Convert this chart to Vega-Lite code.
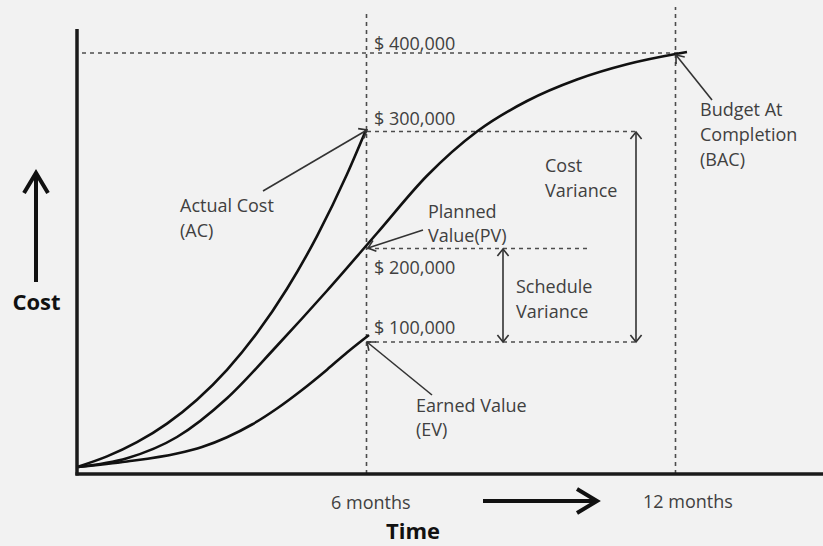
{
  "$schema": "https://vega.github.io/schema/vega-lite/v6.json",
  "width": 746,
  "height": 445,
  "autosize": {"type": "none"},
  "padding": {"left": 77, "top": 29, "right": 0, "bottom": 72},
  "background": "#f2f2f2",
  "view": {"stroke": null},
  "config": {"axis": {"disable": true}},
  "datasets": {
    "curves": [
      {"series": "Actual Cost", "t": 1, "c": 7.3},
      {"series": "Actual Cost", "t": 30, "c": 17.6},
      {"series": "Actual Cost", "t": 60, "c": 31.8},
      {"series": "Actual Cost", "t": 90, "c": 50.4},
      {"series": "Actual Cost", "t": 120, "c": 74.3},
      {"series": "Actual Cost", "t": 150, "c": 104.2},
      {"series": "Actual Cost", "t": 180, "c": 140.9},
      {"series": "Actual Cost", "t": 210, "c": 185.2},
      {"series": "Actual Cost", "t": 240, "c": 237.9},
      {"series": "Actual Cost", "t": 270, "c": 299.7},
      {"series": "Actual Cost", "t": 289, "c": 344},
      {"series": "Planned Value", "t": 1, "c": 7},
      {"series": "Planned Value", "t": 50, "c": 15.75},
      {"series": "Planned Value", "t": 100, "c": 37},
      {"series": "Planned Value", "t": 150, "c": 75.75},
      {"series": "Planned Value", "t": 200, "c": 128.25},
      {"series": "Planned Value", "t": 250, "c": 183.25},
      {"series": "Planned Value", "t": 300, "c": 240.75},
      {"series": "Planned Value", "t": 350, "c": 298.25},
      {"series": "Planned Value", "t": 400, "c": 342.5},
      {"series": "Planned Value", "t": 450, "c": 373},
      {"series": "Planned Value", "t": 500, "c": 394.5},
      {"series": "Planned Value", "t": 550, "c": 409.75},
      {"series": "Planned Value", "t": 600, "c": 420.25},
      {"series": "Planned Value", "t": 610, "c": 422},
      {"series": "Earned Value", "t": 1, "c": 7},
      {"series": "Earned Value", "t": 50, "c": 12.5},
      {"series": "Earned Value", "t": 100, "c": 20.5},
      {"series": "Earned Value", "t": 125, "c": 27},
      {"series": "Earned Value", "t": 150, "c": 36.8},
      {"series": "Earned Value", "t": 175, "c": 49.5},
      {"series": "Earned Value", "t": 200, "c": 65.5},
      {"series": "Earned Value", "t": 225, "c": 84},
      {"series": "Earned Value", "t": 250, "c": 104.3},
      {"series": "Earned Value", "t": 270, "c": 121.5},
      {"series": "Earned Value", "t": 292, "c": 139}
    ],
    "segments": [
      {"kind": "axis", "x": 0, "y": -1.5, "x2": 0, "y2": 445},
      {"kind": "axis", "x": -1.5, "y": 0, "x2": 746, "y2": 0},
      {"kind": "big", "x": -41, "y": 192, "x2": -41, "y2": 300},
      {"kind": "big", "x": 406, "y": -27, "x2": 519, "y2": -27},
      {"kind": "guide", "x": 289.5, "y": 0, "x2": 289.5, "y2": 461},
      {"kind": "guide", "x": 598.5, "y": 0, "x2": 598.5, "y2": 467},
      {"kind": "guide", "x": 5, "y": 421, "x2": 605, "y2": 421},
      {"kind": "guide", "x": 290, "y": 342.5, "x2": 559, "y2": 342.5},
      {"kind": "guide", "x": 290, "y": 225.5, "x2": 513, "y2": 225.5},
      {"kind": "guide", "x": 290, "y": 132, "x2": 559, "y2": 132},
      {"kind": "pointer", "x": 186, "y": 283, "x2": 290, "y2": 344},
      {"kind": "pointer", "x": 346, "y": 244, "x2": 291, "y2": 226},
      {"kind": "pointer", "x": 635, "y": 374, "x2": 599, "y2": 419},
      {"kind": "pointer", "x": 355, "y": 79, "x2": 290, "y2": 132},
      {"kind": "pointer", "x": 559, "y": 132, "x2": 559, "y2": 342},
      {"kind": "pointer", "x": 426, "y": 132, "x2": 426, "y2": 225}
    ],
    "heads": [
      {"kind": "small", "x": 290, "y": 344, "angle": 60},
      {"kind": "small", "x": 291, "y": 226, "angle": 252},
      {"kind": "small", "x": 599, "y": 419, "angle": 321},
      {"kind": "small", "x": 290, "y": 132, "angle": 309},
      {"kind": "small", "x": 559, "y": 342, "angle": 0},
      {"kind": "small", "x": 559, "y": 132, "angle": 180},
      {"kind": "small", "x": 426, "y": 225, "angle": 0},
      {"kind": "small", "x": 426, "y": 132, "angle": 180},
      {"kind": "big", "x": -41, "y": 301, "angle": 0},
      {"kind": "big", "x": 520, "y": -27, "angle": 90}
    ],
    "labels": [
      {"role": "note", "x": 297, "y": 424, "text": "$ 400,000"},
      {"role": "note", "x": 297, "y": 349, "text": "$ 300,000"},
      {"role": "note", "x": 297, "y": 200, "text": "$ 200,000"},
      {"role": "note", "x": 297, "y": 140, "text": "$ 100,000"},
      {"role": "note", "x": 103, "y": 262, "text": "Actual Cost"},
      {"role": "note", "x": 103, "y": 237, "text": "(AC)"},
      {"role": "note", "x": 351, "y": 256, "text": "Planned"},
      {"role": "note", "x": 351, "y": 232, "text": "Value(PV)"},
      {"role": "note", "x": 468, "y": 302, "text": "Cost"},
      {"role": "note", "x": 468, "y": 277, "text": "Variance"},
      {"role": "note", "x": 623, "y": 358, "text": "Budget At"},
      {"role": "note", "x": 623, "y": 333, "text": "Completion"},
      {"role": "note", "x": 623, "y": 308, "text": "(BAC)"},
      {"role": "note", "x": 439, "y": 181, "text": "Schedule"},
      {"role": "note", "x": 439, "y": 156, "text": "Variance"},
      {"role": "note", "x": 339, "y": 62, "text": "Earned Value"},
      {"role": "note", "x": 339, "y": 38, "text": "(EV)"},
      {"role": "note", "x": 254, "y": -35, "text": "6 months"},
      {"role": "note", "x": 566, "y": -34, "text": "12 months"},
      {"role": "title", "x": -40.5, "y": 164, "text": "Cost"},
      {"role": "title", "x": 336, "y": -65, "text": "Time"}
    ]
  },
  "encoding": {
    "x": {"type": "quantitative", "scale": {"domain": [0, 746], "nice": false, "zero": false}, "axis": null},
    "y": {"type": "quantitative", "scale": {"domain": [0, 445], "nice": false, "zero": false}, "axis": null}
  },
  "layer": [
    {
      "data": {"name": "segments"},
      "transform": [{"filter": "datum.kind === 'guide'"}],
      "mark": {"type": "rule", "color": "#4d4d4d", "strokeWidth": 1.6, "strokeDash": [4, 4]},
      "encoding": {"x": {"field": "x"}, "y": {"field": "y"}, "x2": {"field": "x2"}, "y2": {"field": "y2"}}
    },
    {
      "data": {"name": "curves"},
      "mark": {"type": "line", "color": "#111111", "strokeWidth": 2.6, "interpolate": "monotone"},
      "encoding": {"x": {"field": "t"}, "y": {"field": "c"}, "detail": {"field": "series"}}
    },
    {
      "data": {"name": "segments"},
      "transform": [{"filter": "datum.kind === 'pointer'"}],
      "mark": {"type": "rule", "color": "#333333", "strokeWidth": 1.6},
      "encoding": {"x": {"field": "x"}, "y": {"field": "y"}, "x2": {"field": "x2"}, "y2": {"field": "y2"}}
    },
    {
      "data": {"name": "segments"},
      "transform": [{"filter": "datum.kind === 'axis'"}],
      "mark": {"type": "rule", "color": "#1a1a1a", "strokeWidth": 3.5},
      "encoding": {"x": {"field": "x"}, "y": {"field": "y"}, "x2": {"field": "x2"}, "y2": {"field": "y2"}}
    },
    {
      "data": {"name": "segments"},
      "transform": [{"filter": "datum.kind === 'big'"}],
      "mark": {"type": "rule", "color": "#111111", "strokeWidth": 4},
      "encoding": {"x": {"field": "x"}, "y": {"field": "y"}, "x2": {"field": "x2"}, "y2": {"field": "y2"}}
    },
    {
      "data": {"name": "heads"},
      "transform": [{"filter": "datum.kind === 'small'"}],
      "mark": {"type": "point", "shape": "M -0.8 1 L 0 0 L 0.8 1", "filled": false, "color": "#333333", "strokeWidth": 1.6, "size": 196, "opacity": 1},
      "encoding": {"x": {"field": "x"}, "y": {"field": "y"}, "angle": {"field": "angle", "type": "quantitative", "scale": null}}
    },
    {
      "data": {"name": "heads"},
      "transform": [{"filter": "datum.kind === 'big'"}],
      "mark": {"type": "point", "shape": "M -0.6 1 L 0 0 L 0.6 1", "filled": false, "color": "#111111", "strokeWidth": 4, "size": 1600, "opacity": 1},
      "encoding": {"x": {"field": "x"}, "y": {"field": "y"}, "angle": {"field": "angle", "type": "quantitative", "scale": null}}
    },
    {
      "data": {"name": "labels"},
      "transform": [{"filter": "datum.role === 'note'"}],
      "mark": {"type": "text", "font": "Open Sans", "fontSize": 18, "color": "#404040", "align": "left", "baseline": "alphabetic"},
      "encoding": {"x": {"field": "x"}, "y": {"field": "y"}, "text": {"field": "text"}}
    },
    {
      "data": {"name": "labels"},
      "transform": [{"filter": "datum.role === 'title'"}],
      "mark": {"type": "text", "font": "Open Sans", "fontSize": 22, "fontWeight": "bold", "color": "#111111", "align": "center", "baseline": "alphabetic"},
      "encoding": {"x": {"field": "x"}, "y": {"field": "y"}, "text": {"field": "text"}}
    }
  ]
}
